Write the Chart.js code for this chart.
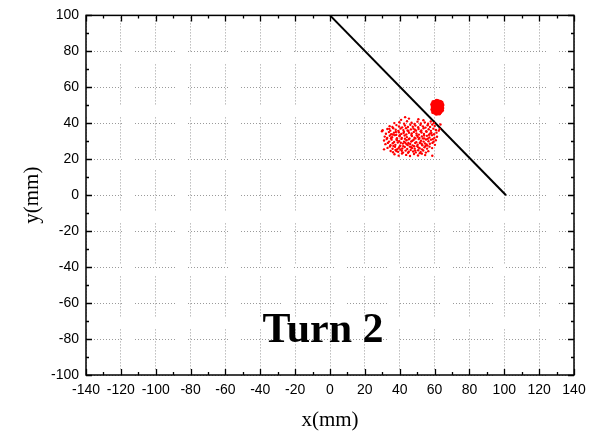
<!DOCTYPE html>
<html>
<head>
<meta charset="utf-8">
<script src="https://cdn.jsdelivr.net/npm/chart.js@4/dist/chart.umd.min.js"></script>
<style>
body { margin: 0; background: #fff; }
#wrap { width: 600px; height: 434px; }
</style>
</head>
<body>
<div id="wrap"><canvas id="turnChart" width="600" height="434"></canvas></div>
<script>

// axis ticks
const xTicks = [-140,-120,-100,-80,-60,-40,-20,0,20,40,60,80,100,120,140];
const yTicks = [-100,-80,-60,-40,-20,0,20,40,60,80,100];

// black trajectory line
const lineX = [0, 101];
const lineY = [100, 0];

// scattered red hits (x, y in mm)
const cloudPoints = [
[43.1,43.4],[40.8,41.9],[45.3,42.6],[50.7,42.2],[53.6,41.7],
[36.9,40.1],[39.8,40.6],[42.5,39.8],[44.2,41.1],[46.8,40.3],[48.5,39.6],[50.2,40.9],[52.1,39.9],[54.4,40.5],[56.3,39.7],[57.8,41.0],[59.6,40.2],
[34.2,38.4],[35.8,37.9],[38.1,39.0],[39.6,38.2],[41.4,37.7],[43.0,38.8],[44.7,37.9],[46.1,39.2],[47.5,38.1],[49.0,38.7],[50.6,37.8],[51.9,39.1],[53.3,38.3],[54.8,37.6],[56.0,38.9],[57.4,38.0],[58.7,39.3],[60.1,38.5],
[30.2,36.1],[32.9,36.8],[34.6,35.9],[36.3,37.2],[37.7,36.4],[39.2,35.8],[40.5,37.1],[42.1,36.2],[43.6,37.3],[45.0,35.7],[46.4,36.6],[47.9,37.0],[49.4,35.9],[50.8,36.8],[52.4,36.0],[53.7,37.2],[55.2,35.6],[56.6,36.7],[57.9,35.8],[59.3,37.0],[60.8,36.3],[62.4,35.9],
[32.1,34.2],[33.8,35.1],[35.1,33.9],[36.7,34.8],[38.0,33.6],[39.5,35.0],[40.9,34.1],[42.4,35.3],[43.8,33.8],[45.3,34.7],[46.7,33.5],[48.1,35.2],[49.6,34.3],[51.0,33.7],[52.5,34.9],[53.9,34.0],[55.4,35.3],[56.8,33.6],[58.2,34.6],[59.7,33.9],[61.1,34.8],
[31.4,32.6],[32.8,31.8],[34.3,33.1],[35.6,32.2],[37.1,33.4],[38.4,31.7],[39.9,32.8],[41.2,31.9],[42.8,33.2],[44.1,32.3],[45.6,31.6],[47.0,32.9],[48.5,32.0],[49.8,33.3],[51.3,31.8],[52.7,32.7],[54.1,31.6],[55.6,33.0],[57.0,32.1],[58.5,33.4],[59.9,31.9],[61.4,32.5],
[31.0,30.4],[32.5,31.2],[33.9,29.8],[35.3,30.9],[36.8,29.6],[38.2,31.0],[39.7,30.1],[41.0,31.3],[42.5,29.7],[43.9,30.6],[45.2,31.1],[46.6,29.9],[48.0,30.8],[49.5,29.5],[50.9,31.2],[52.2,30.3],[53.7,29.8],[55.1,31.0],[56.5,30.0],[57.9,30.9],[59.4,29.7],[60.7,30.6],
[31.8,28.4],[33.2,29.1],[34.7,27.8],[36.0,28.9],[37.5,28.0],[38.9,29.3],[40.3,27.6],[41.8,28.7],[43.2,29.2],[44.6,27.9],[46.0,28.5],[47.4,27.7],[48.9,29.0],[50.3,28.1],[51.7,29.4],[53.0,27.8],[54.5,28.8],[55.9,27.6],[57.3,28.6],[58.8,29.1],[60.2,28.0],
[33.0,26.3],[34.4,27.1],[35.9,25.8],[37.3,26.9],[38.6,25.6],[40.1,27.2],[41.5,26.0],[42.9,26.8],[44.3,25.7],[45.8,27.0],[47.1,26.2],[48.6,25.9],[50.0,27.3],[51.4,26.1],[52.8,25.5],[54.2,26.7],[55.7,25.9],[57.1,27.0],[58.6,26.2],
[34.8,24.6],[36.2,23.9],[37.6,25.2],[39.1,24.1],[40.4,25.4],[41.9,23.7],[43.4,24.8],[44.8,23.6],[46.3,25.1],[47.7,24.3],[49.2,23.8],[50.6,25.0],[52.0,24.0],[53.5,24.9],[55.0,23.7],[56.4,24.5],
[37.0,22.8],[39.4,22.0],[41.3,23.2],[43.7,22.4],[45.9,21.8],[48.2,22.9],[50.5,22.1],[52.7,23.1],[54.6,22.3],
[29.8,35.6],[63.4,39.3],[62.9,36.8],[31.0,25.5],[58.7,21.9],
[37.8,35.2],[40.0,33.4],[42.2,34.6],[44.5,36.0],[46.9,34.4],[48.8,36.4],[50.3,32.5],[52.0,35.5],[54.0,33.2],[56.1,31.4],
[38.5,30.5],[40.6,29.2],[43.0,31.4],[45.0,29.1],[47.3,30.3],[49.0,31.6],[51.6,29.0],[53.3,31.6],[55.4,28.2],
[36.4,27.4],[39.5,26.4],[42.0,27.3],[44.0,28.3],[46.5,26.7],[48.3,27.2],[50.7,26.6],[52.6,28.5],[54.8,27.4],
[38.2,24.5],[41.2,24.7],[45.2,24.2],[48.9,24.8],[51.5,23.4],[35.0,31.7],[36.0,33.8],[57.5,34.3],[59.0,31.2],[34.0,36.9]
];

// dense red spot (x, y in mm)
const blobPoints = [
[59.3,46.3],[60.6,45.8],[62.0,46.0],[63.2,46.4],[64.1,47.2],
[58.9,47.6],[60.2,47.3],[61.5,47.0],[62.8,47.6],[64.3,48.5],
[59.1,49.0],[60.4,48.6],[61.9,48.9],[63.3,49.2],[64.4,50.1],
[58.8,50.4],[60.1,50.2],[61.4,50.6],[62.7,50.3],[63.9,51.4],
[59.4,51.7],[60.7,51.9],[62.0,52.1],[63.1,51.8],[61.3,52.4],
[60.0,46.6],[62.4,46.5],[61.0,49.6],[62.2,49.8],[59.8,48.3],[63.6,48.0],[61.1,45.5],[62.6,45.6]
];

const labelText = "Turn 2";

// dotted grid with the periodic gaps seen in the picture
const gridDash = [];
for (let i = 0; i < 14; i++) gridDash.push(1, 2);
gridDash[gridDash.length - 1] = 13;

const frameTicks = {
  id: "frameTicks",
  afterDraw(chart) {
    const {ctx, chartArea: a, scales: {x, y}} = chart;
    ctx.save();
    ctx.strokeStyle = "#000";
    ctx.lineWidth = 1.5;
    ctx.strokeRect(a.left, a.top, a.right - a.left, a.bottom - a.top);

    ctx.lineWidth = 1.3;
    ctx.beginPath();
    const tickX = (v, len) => {
      const px = Math.round(x.getPixelForValue(v)) + 0.5;
      ctx.moveTo(px, a.bottom); ctx.lineTo(px, a.bottom - len);
      ctx.moveTo(px, a.top); ctx.lineTo(px, a.top + len);
    };
    const tickY = (v, len) => {
      const py = Math.round(y.getPixelForValue(v)) + 0.5;
      ctx.moveTo(a.left, py); ctx.lineTo(a.left + len, py);
      ctx.moveTo(a.right, py); ctx.lineTo(a.right - len, py);
    };
    xTicks.forEach((v, i) => {
      tickX(v, 6);
      if (i > 0) tickX((v + xTicks[i - 1]) / 2, 3);
    });
    yTicks.forEach((v, i) => {
      tickY(v, 6);
      if (i > 0) tickY((v + yTicks[i - 1]) / 2, 3);
    });
    ctx.stroke();

    ctx.fillStyle = "#000";
    ctx.font = "bold 42px 'Liberation Serif', 'Times New Roman', serif";
    ctx.textAlign = "center";
    ctx.textBaseline = "alphabetic";
    ctx.fillText(labelText, x.getPixelForValue(-4), y.getPixelForValue(-81.8));
    ctx.restore();
  }
};

new Chart("turnChart", {
  type: "scatter",
  data: {
    datasets: [
      {
        label: "cloud",
        data: cloudPoints.map(p => ({x: p[0], y: p[1]})),
        backgroundColor: "#ff0000",
        borderWidth: 0,
        pointRadius: 1.2
      },
      {
        label: "spot",
        data: blobPoints.map(p => ({x: p[0], y: p[1]})),
        backgroundColor: "#ff0000",
        borderWidth: 0,
        pointRadius: 2.3
      },
      {
        label: "line",
        data: lineX.map((v, i) => ({x: v, y: lineY[i]})),
        showLine: true,
        borderColor: "#000",
        borderWidth: 2,
        pointRadius: 0
      }
    ]
  },
  options: {
    responsive: false,
    animation: false,
    events: [],
    layout: { padding: { left: 0, right: 26, top: 13, bottom: 0 } },
    plugins: { legend: { display: false }, tooltip: { enabled: false } },
    scales: {
      x: {
        type: "linear",
        min: -140, max: 140,
        afterBuildTicks: s => { s.ticks = xTicks.map(v => ({value: v})); },
        afterFit: s => { s.height = 59; },
        grid: { color: "#9a9a9a", lineWidth: 1, drawTicks: false },
        border: { display: false, dash: gridDash, dashOffset: 4 },
        ticks: {
          autoSkip: false, maxRotation: 0, padding: 7,
          color: "#000",
          font: { family: "'Liberation Sans', Arial, sans-serif", size: 14 }
        },
        title: {
          display: true, text: "x(mm)", color: "#000",
          font: { family: "'Liberation Serif', 'Times New Roman', serif", size: 21 },
          padding: { top: 0, bottom: 1 }
        }
      },
      y: {
        type: "linear",
        min: -100, max: 100,
        afterBuildTicks: s => { s.ticks = yTicks.map(v => ({value: v})); },
        afterFit: s => { s.width = 86; },
        grid: { color: "#9a9a9a", lineWidth: 1, drawTicks: false },
        border: { display: false, dash: gridDash, dashOffset: 4 },
        ticks: {
          autoSkip: false, padding: 7,
          color: "#000",
          font: { family: "'Liberation Sans', Arial, sans-serif", size: 14 }
        },
        title: {
          display: true, text: "y(mm)", color: "#000",
          font: { family: "'Liberation Serif', 'Times New Roman', serif", size: 21 },
          padding: { top: 20, bottom: 0 }
        }
      }
    }
  },
  plugins: [frameTicks]
});
</script>
</body>
</html>
